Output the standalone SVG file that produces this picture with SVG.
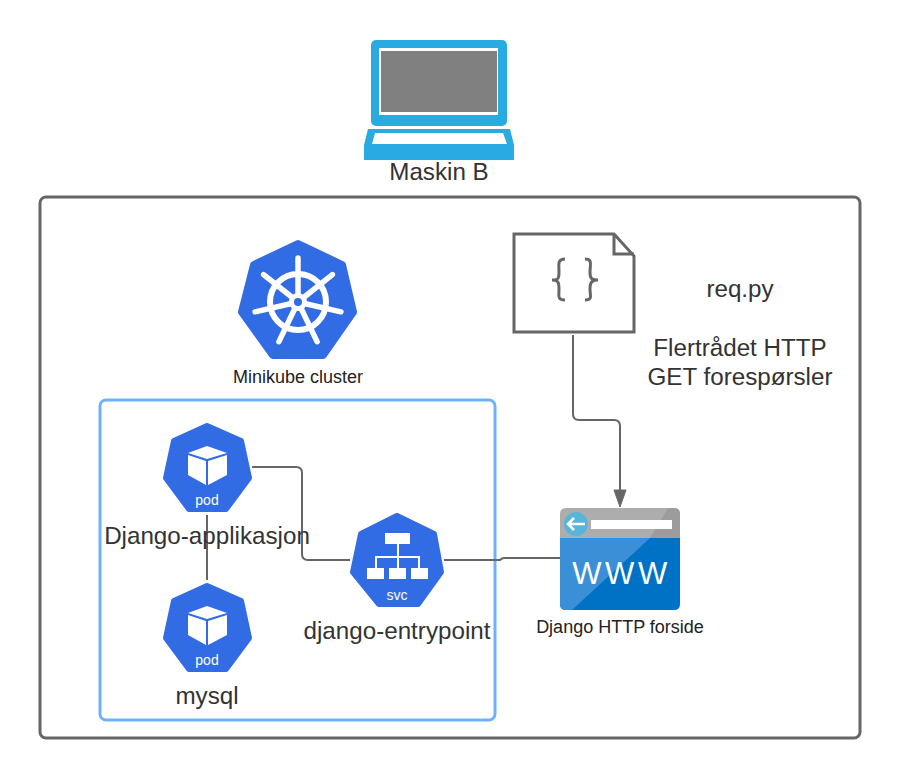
<svg xmlns="http://www.w3.org/2000/svg" xmlns:xlink="http://www.w3.org/1999/xlink" width="900" height="778" viewBox="0 0 900 778">
<style>
text{font-family:"Liberation Sans",Arial,sans-serif;fill:#333;text-anchor:middle}
.l{font-size:24.2px}
.s{font-size:18px;fill:#222}
.t{fill:#fff;font-size:14px}
.w{fill:#fff;font-size:31px;letter-spacing:3.5px}
.c{fill:none;stroke:#666;stroke-width:2}
.h{fill:#326ce5;stroke:#326ce5;stroke-linejoin:round}
</style>
<defs>
<path id="pg" d="M207 426L241 441L249 478L226 509L189 509L166 478L174 441Z" stroke-width="6"/>
<g id="cube" fill="#fff"><path d="M207 446L227 453L207 459L188 453Z"/><path d="M188 455L206 461V485L188 475Z"/><path d="M227 455L208 461V485L227 475Z"/></g>
</defs>
<rect x="40" y="197" width="820" height="541" rx="6" fill="#fff" stroke="#666" stroke-width="3"/>
<rect x="100" y="400" width="395" height="320" rx="6" fill="none" stroke="#6db1ff" stroke-width="3"/>
<g id="connectors">
<path class="c" d="M252 467H296Q302 467 302 473V554Q302 560 308 560H350"/>
<path class="c" d="M207 515V580"/>
<path class="c" d="M444 560H500Q502 558 504 558H560"/>
<path class="c" d="M573 335V414Q573 420 579 420H614Q620 420 620 426V492"/>
<path d="M614 490H626L620 507Z" fill="#666" stroke="#666" stroke-width="1"/>
</g>
<g id="maskin-b">
<rect x="371" y="40" width="136" height="86" rx="5" fill="#29abe2"/>
<rect x="379" y="48" width="119" height="67" fill="#fff"/>
<rect x="381" y="51" width="116" height="61" fill="#808080"/>
<path d="M368 129H510L514 145V160H364V145Z" fill="#29abe2"/>
<path d="M375 133H503L507 144H372Z" fill="#fff"/>
<text class="l" x="439" y="180">Maskin B</text>
</g>
<g id="minikube-cluster">
<path d="M298 244L342 265L353 312L323 355L273 355L242 312L254 265Z" class="h" stroke-width="8"/>
<g stroke="#fff" fill="none" stroke-linecap="round">
<circle cx="298" cy="302" r="28" stroke-width="6"/>
<g stroke-width="5.5">
<path id="sp" d="M298 302V258"/>
<use xlink:href="#sp" transform="rotate(51.4 298 302)"/>
<use xlink:href="#sp" transform="rotate(102.9 298 302)"/>
<use xlink:href="#sp" transform="rotate(154.3 298 302)"/>
<use xlink:href="#sp" transform="rotate(205.7 298 302)"/>
<use xlink:href="#sp" transform="rotate(257.1 298 302)"/>
<use xlink:href="#sp" transform="rotate(308.6 298 302)"/>
</g>
</g>
<circle cx="298" cy="302" r="9" fill="#fff"/>
<circle cx="298" cy="302" r="4" fill="#326ce5"/>
<text x="298" y="383" class="s">Minikube cluster</text>
</g>
<g id="pod-django">
<use xlink:href="#pg" class="h"/>
<use xlink:href="#cube"/>
<text class="t" x="207" y="505">pod</text>
<text class="l" x="207" y="544">Django-applikasjon</text>
</g>
<g id="pod-mysql">
<use xlink:href="#pg" class="h" y="160"/>
<use xlink:href="#cube" y="160"/>
<text class="t" x="207" y="665">pod</text>
<text class="l" x="207" y="704">mysql</text>
</g>
<g id="svc-django-entrypoint">
<path d="M397 516L434 534L441 572L418 604L379 604L353 572L361 534Z" class="h" stroke-width="6"/>
<g fill="#fff">
<rect x="385" y="533" width="25" height="11"/>
<rect x="367" y="568" width="17" height="11"/>
<rect x="389" y="568" width="17" height="11"/>
<rect x="411" y="568" width="17" height="11"/>
</g>
<path d="M398 544V568M376 568V557H419V568" fill="none" stroke="#fff" stroke-width="2"/>
<text class="t" x="397" y="600">svc</text>
<text class="l" x="397" y="639">django-entrypoint</text>
</g>
<g id="req-py">
<path d="M514 234H614L634 256V332H514Z" fill="#fff" stroke="#666" stroke-width="3"/>
<path d="M614 234V254H634" fill="none" stroke="#666" stroke-width="3"/>
<path d="M565 259C557 259 559 265 559 272C559 279 558 280 552 280C558 280 559 282 559 289C559 296 557 300 565 300M585 259C593 259 590 265 590 272C590 279 592 280 598 280C592 280 590 282 590 289C590 296 593 300 585 300" fill="none" stroke="#666" stroke-width="3"/>
<text class="l" x="740" y="297">req.py</text>
<text class="l" x="740" y="356">Flertrådet HTTP</text>
<text class="l" x="740" y="385">GET forespørsler</text>
</g>
<g id="django-http-forside">
<path d="M560 538V514Q560 508 566 508H674Q680 508 680 514V538Z" fill="#adadad"/>
<path d="M650 538L668 508H674Q680 508 680 514V538Z" fill="#9c9c9c"/>
<path d="M560 538H680V604Q680 610 674 610H566Q560 610 560 604Z" fill="#0072c6"/>
<path d="M560 538H650L572 610H566Q560 610 560 604Z" fill="#3a8fd6"/>
<circle cx="576" cy="524" r="12" fill="#59b4d9"/>
<path d="M585 524H568M574 518L568 524L574 530" fill="none" stroke="#fff" stroke-width="2.5"/>
<rect x="591" y="520" width="81" height="9" fill="#fff"/>
<text x="621.5" y="584" class="w">WWW</text>
<text x="620" y="633" class="s">Django HTTP forside</text>
</g>
</svg>
